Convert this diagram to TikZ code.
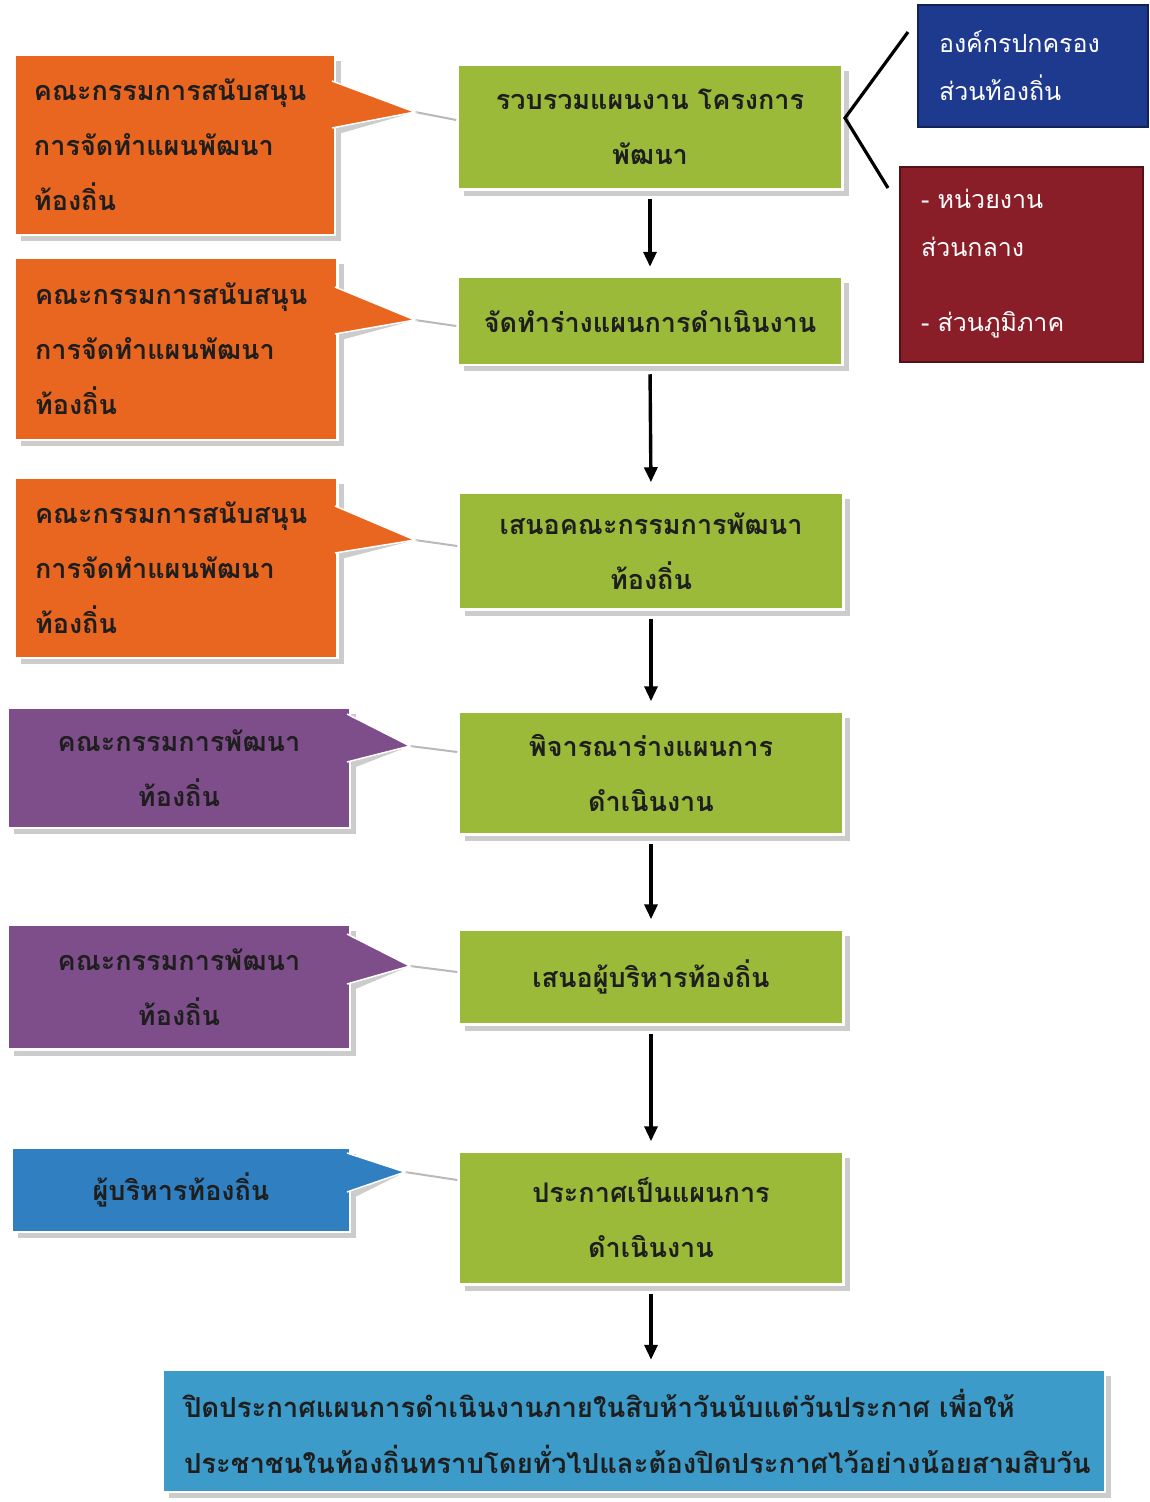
\documentclass[tikz,border=0pt]{standalone}
\usepackage{fontspec}
\usetikzlibrary{shadows,arrows.meta,calc}
\newfontfamily\thaib[Script=Thai]{Loma}
\definecolor{gr}{HTML}{9BBA3A}
\definecolor{org}{HTML}{E8661F}
\definecolor{pur}{HTML}{7E4E8A}
\definecolor{blc}{HTML}{2F7FC1}
\definecolor{bot}{HTML}{3C9BC8}
\definecolor{nvy}{HTML}{1E3A8E}
\definecolor{drd}{HTML}{8A1E28}
\definecolor{txt}{HTML}{1E1E1E}
\tikzset{
  basetxt/.style={inner sep=0pt, font=\thaib\bfseries\fontsize{27}{55}\selectfont, text=txt},
  shad/.style={drop shadow={shadow xshift=6pt, shadow yshift=-6pt, fill=gray!40, opacity=1}},
  gbox/.style={basetxt, fill=gr, draw=white, line width=2.5pt, shad, align=center},
  cbox/.style={basetxt, draw=white, line width=2.5pt, shad},
  wbox/.style={inner sep=0pt, font=\thaib\fontsize{25}{48}\selectfont, text=white, line width=2pt, align=left},
  flow/.style={line width=3.4pt, -{Triangle[length=15pt,width=13pt]}, shorten <=8pt, shorten >=9pt},
  lead/.style={gray!55, line width=2pt},
  brace/.style={line width=3.2pt, black}
}
\newcommand{\ptr}[4]{%
  \fill[gray!40, shift={(6,6)}] #2 -- #3 -- #4 -- cycle;
  \fill[#1] #2 -- #3 -- #4 -- cycle;
  \draw[white, line width=1.5pt] #2 -- #3 -- #4;
}
\begin{document}
\begin{tikzpicture}[x=1pt,y=-1pt]
\useasboundingbox[fill=white] (0,0) rectangle (1150,1502);

% green flow boxes
\node[gbox, minimum width=385pt, minimum height=125pt] (g1) at (650,127) {รวบรวมแผนงาน โครงการ\\พัฒนา};
\node[gbox, minimum width=385pt, minimum height=88pt] (g2) at (650,321) {จัดทำร่างแผนการดำเนินงาน};
\node[gbox, minimum width=385pt, minimum height=117pt] (g3) at (651,551) {เสนอคณะกรรมการพัฒนา\\ท้องถิ่น};
\node[gbox, minimum width=385pt, minimum height=123pt] (g4) at (651,773) {พิจารณาร่างแผนการ\\ดำเนินงาน};
\node[gbox, minimum width=385pt, minimum height=95pt] (g5) at (651,977) {เสนอผู้บริหารท้องถิ่น};
\node[gbox, minimum width=385pt, minimum height=133pt] (g6) at (651,1218) {ประกาศเป็นแผนการ\\ดำเนินงาน};
\node[gbox, fill=bot, minimum width=942pt, minimum height=122pt, text width=900pt, align=left,
      font=\thaib\bfseries\fontsize{27.5}{56}\selectfont] (g7) at (634,1431)
  {ปิดประกาศแผนการดำเนินงานภายในสิบห้าวันนับแต่วันประกาศ เพื่อให้\\ประชาชนในท้องถิ่นทราบโดยทั่วไปและต้องปิดประกาศไว้อย่างน้อยสามสิบวัน};

% arrows
\draw[flow] (g1.south) -- (g2.north);
\draw[flow] (g2.south) -- (g3.north);
\draw[flow] (g3.south) -- (g4.north);
\draw[flow] (g4.south) -- (g5.north);
\draw[flow] (g5.south) -- (g6.north);
\draw[flow] (g6.south) -- (g6.south |- g7.north);

% callouts
\node[cbox, fill=org, minimum width=320pt, minimum height=180pt, text width=282pt, align=left] (c1) at (175,145)
  {คณะกรรมการสนับสนุน\\การจัดทำแผนพัฒนา\\ท้องถิ่น};
\coordinate (t1) at (415,112);
\draw[lead] (t1) -- (g1.west |- 0,120);
\ptr{org}{(332,81)}{(t1)}{(332,128)}

\node[cbox, fill=org, minimum width=323pt, minimum height=182pt, text width=282pt, align=left] (c2) at (176,349)
  {คณะกรรมการสนับสนุน\\การจัดทำแผนพัฒนา\\ท้องถิ่น};
\coordinate (t2) at (415,320);
\draw[lead] (t2) -- (g2.west |- 0,326);
\ptr{org}{(335,287)}{(t2)}{(335,334)}

\node[cbox, fill=org, minimum width=323pt, minimum height=180pt, text width=282pt, align=left] (c3) at (176,568)
  {คณะกรรมการสนับสนุน\\การจัดทำแผนพัฒนา\\ท้องถิ่น};
\coordinate (t3) at (415,540);
\draw[lead] (t3) -- (g3.west |- 0,546);
\ptr{org}{(335,506)}{(t3)}{(335,553)}

\node[cbox, fill=pur, minimum width=342pt, minimum height=120pt, align=center] (p1) at (179,768)
  {คณะกรรมการพัฒนา\\ท้องถิ่น};
\coordinate (t4) at (410,746);
\draw[lead] (t4) -- (g4.west |- 0,752);
\ptr{pur}{(347,714)}{(t4)}{(347,762)}

\node[cbox, fill=pur, minimum width=342pt, minimum height=125pt, align=center] (p2) at (179,987)
  {คณะกรรมการพัฒนา\\ท้องถิ่น};
\coordinate (t5) at (410,966);
\draw[lead] (t5) -- (g5.west |- 0,972);
\ptr{pur}{(347,934)}{(t5)}{(347,984)}

\node[cbox, fill=blc, minimum width=338pt, minimum height=84pt, align=center] (b1) at (181,1190)
  {ผู้บริหารท้องถิ่น};
\coordinate (t6) at (405,1172);
\draw[lead] (t6) -- (g6.west |- 0,1180);
\ptr{blc}{(347,1153)}{(t6)}{(347,1192)}

% right side boxes
\node[wbox, fill=nvy, draw=nvy!60!black, minimum width=230pt, minimum height=122pt, text width=188pt] (nv) at (1033,66)
  {องค์กรปกครอง\\ส่วนท้องถิ่น};
\node[wbox, fill=drd, draw=drd!60!black, minimum width=243pt, minimum height=195pt, text width=200pt] (rd) at (1021,264)
  {- หน่วยงาน\\ส่วนกลาง\\[27pt]- ส่วนภูมิภาค};

\coordinate (brk) at (845,118);
\coordinate (brt) at (908,32);
\coordinate (brb) at (888,188);
\draw[brace] (brt) -- (brk) -- (brb);
\end{tikzpicture}
\end{document}
